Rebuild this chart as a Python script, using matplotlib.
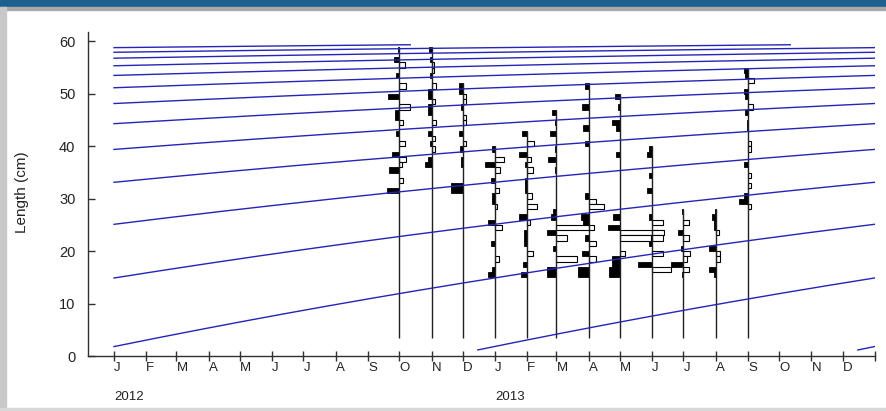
import numpy as np
import matplotlib.pyplot as plt
from matplotlib.patches import Rectangle

# von Bertalanffy growth curve, parameters
LINF = 62.0
K = 0.245
AGE_JAN2012 = 0.12      # age (yr) of the youngest cohort on 1 Jan 2012
AGE_START = 0.075       # curves are drawn from this age ...
AGE_MAX = 12.9          # ... up to this age
COHORTS = np.arange(-2, 13)

MONTHS = ['J', 'F', 'M', 'A', 'M', 'J', 'J', 'A', 'S', 'O', 'N', 'D'] * 2
YEARS = ['2012', '2013']

SAMPLE_DATES = ['2012-10-01', '2012-11-01', '2012-12-01', '2013-01-01',
                '2013-02-01', '2013-03-01', '2013-04-01', '2013-05-01',
                '2013-06-01', '2013-07-01', '2013-08-01', '2013-09-01']

# restructured length frequencies: (class mid, score); + peak (black), - trough (white)
oct12 = [(58.5, 0.04), (56.5, 0.15), (55.5, -0.15), (53.5, 0.1), (51.5, -0.2),
         (49.5, 0.32), (47.5, -0.3), (46.5, 0.12), (45.5, 0.12), (44.5, -0.1),
         (42.5, 0.1), (40.5, -0.15), (38.5, 0.2), (37.5, -0.2), (36.5, -0.08),
         (35.5, 0.3), (33.5, -0.12), (31.5, 0.35)]
nov12 = [(58.5, 0.07), (56.5, 0.05), (55.5, -0.08), (54.5, -0.08), (53.5, 0.05),
         (51.5, -0.12), (50.5, 0.1), (49.5, 0.1), (48.5, -0.1), (47.5, 0.1),
         (46.5, 0.1), (44.5, -0.12), (42.5, 0.1), (41.5, -0.1), (40.5, 0.05),
         (39.5, -0.1), (37.5, 0.1), (36.5, 0.2)]
dec12 = [(51.5, 0.1), (50.5, 0.1), (49.5, -0.1), (48.5, -0.1), (47.5, 0.05),
         (45.5, -0.1), (44.5, -0.1), (42.5, 0.1), (40.5, -0.1), (39.5, 0.08),
         (37.5, 0.06), (36.5, 0.06), (32.5, 0.35), (31.5, 0.35)]
jan13 = [(39.5, 0.1), (37.5, -0.25), (36.5, 0.3), (35.5, -0.15), (33.5, 0.12),
         (31.5, -0.1), (30.5, 0.08), (29.5, 0.08), (28.5, -0.05), (25.5, 0.2),
         (24.5, -0.2), (21.5, 0.12), (18.5, -0.12), (16.5, 0.1), (15.5, 0.2)]
feb13 = [(42.5, 0.15), (40.5, -0.18), (38.5, 0.25), (37.5, -0.1), (36.5, 0.08),
         (35.5, -0.15), (33.5, 0.08), (32.5, 0.08), (31.5, 0.08), (30.5, -0.12),
         (28.5, -0.28), (26.5, 0.23), (25.5, -0.08), (23.5, 0.1), (22.5, 0.1),
         (21.5, 0.1), (19.5, -0.15), (17.5, 0.12), (15.5, 0.18)]
mar13 = [(46.5, 0.12), (44.5, 0.05), (42.5, 0.18), (39.5, 0.05), (37.5, 0.25),
         (35.5, 0.05), (27.5, 0.1), (26.5, 0.15), (24.5, -0.95), (23.5, 0.27),
         (22.5, -0.3), (20.5, 0.1), (18.5, -0.6), (16.5, 0.27), (15.5, 0.27)]
apr13 = [(51.5, 0.12), (47.5, 0.2), (43.5, 0.17), (40.5, 0.12), (30.5, 0.12),
         (29.5, -0.2), (28.5, -0.43), (26.5, 0.22), (25.5, 0.15), (24.5, -0.15),
         (22.5, 0.1), (21.5, -0.2), (19.5, 0.2), (18.5, -0.2), (16.5, 0.3),
         (15.5, 0.3)]
may13 = [(49.5, 0.15), (47.5, 0.05), (44.5, 0.22), (43.5, 0.1), (38.5, 0.1),
         (26.5, 0.2), (24.5, 0.35), (23.5, -1.2), (22.5, -0.9), (19.5, -0.15),
         (18.5, 0.22), (17.5, 0.22), (16.5, 0.3), (15.5, 0.3)]
jun13 = [(39.5, 0.1), (38.5, 0.15), (34.5, 0.1), (31.5, 0.15), (26.5, 0.1),
         (25.5, -0.3), (23.5, -0.35), (22.5, -0.3), (21.5, 0.1), (19.5, -0.3),
         (17.5, 0.4), (16.5, -0.55)]
jul13 = [(27.5, 0.03), (25.5, -0.15), (23.5, 0.15), (22.5, -0.15), (20.5, 0.07),
         (19.5, -0.18), (18.5, -0.1), (17.5, 0.37), (16.5, -0.15), (15.5, 0.05)]
aug13 = [(27.5, 0.03), (26.5, 0.12), (25.5, 0.05), (24.5, 0.05), (23.5, -0.1),
         (20.5, 0.2), (19.5, -0.12), (18.5, -0.12), (16.5, 0.2), (15.5, 0.05)]
sep13 = [(54.5, 0.1), (53.5, 0.08), (52.5, -0.17), (50.5, 0.12), (49.5, 0.08),
         (47.5, -0.15), (46.5, 0.08), (44.5, 0.04), (43.5, 0.04), (40.5, -0.1),
         (39.5, -0.1), (36.5, 0.12), (34.5, -0.08), (32.5, -0.08), (30.5, 0.1),
         (29.5, 0.27), (28.5, -0.08)]
SAMPLES = [oct12, nov12, dec12, jan13, feb13, mar13, apr13, may13, jun13,
           jul13, aug13, sep13]

BASE_FLOOR = 3.5        # bottom of the sample baselines (cm)
SCORE_SCALE = 33.6      # days of x-axis per unit score

ORIGIN = np.datetime64('2012-01-01')


def days(d):
    return (np.datetime64(d) - ORIGIN).astype(float)


fig = plt.figure(figsize=(8.87, 4.11), dpi=100, facecolor='white')

# window frame
fig.patches.append(Rectangle((0, 1 - 7 / 411), 1, 7 / 411, transform=fig.transFigure,
                             color='#1d5f8f', zorder=0))
fig.patches.append(Rectangle((0, 1 - 10 / 411), 1, 3 / 411, transform=fig.transFigure,
                             color='#a8a8a8', zorder=0))
fig.patches.append(Rectangle((0, 0), 6 / 887, 1 - 7 / 411, transform=fig.transFigure,
                             color='#c8c8c8', zorder=0))
fig.patches.append(Rectangle((0, 0), 1, 3 / 411, transform=fig.transFigure,
                             color='#d8d8d8', zorder=0))

ax = fig.add_axes([88 / 887, 55 / 411, 787 / 887, 324 / 411])
ax.set_facecolor('none')

# growth curves
t = np.linspace(0, days('2014-01-01'), 800)
for c in COHORTS:
    age = AGE_JAN2012 + c + t / 365.25
    ok = (age >= AGE_START) & (age <= AGE_MAX)
    if ok.any():
        L = LINF * (1 - np.exp(-K * age[ok]))
        ax.plot(t[ok], L, color='#2424b8', lw=1.0, zorder=3)

# restructured histograms
for d, sample in zip(SAMPLE_DATES, SAMPLES):
    x0 = days(d)
    mids = np.array([m for m, s in sample])
    sc = np.array([s for m, s in sample])
    pos = sc > 0
    ax.barh(mids[pos], -sc[pos] * SCORE_SCALE, left=x0, height=1.0,
            color='black', edgecolor='black', lw=0.6, zorder=2)
    ax.barh(mids[~pos], -sc[~pos] * SCORE_SCALE, left=x0, height=1.0,
            color='white', edgecolor='black', lw=0.8, zorder=2)
    ax.vlines(x0, BASE_FLOOR, mids.max() + 0.5, color='#202020', lw=1.0, zorder=2)

ax.set_xlim(-25, days('2014-01-01'))
ax.set_ylim(0, 61.8)
for s in ['top', 'right']:
    ax.spines[s].set_visible(False)
for s in ['left', 'bottom']:
    ax.spines[s].set_color('#303030')
    ax.spines[s].set_linewidth(1.0)

ax.set_yticks(range(0, 61, 10))
ax.tick_params(axis='y', direction='in', length=5, width=1, colors='#303030',
               labelsize=10.5, labelcolor='#222222', pad=9)

month_ticks = [days(m) for m in np.arange('2012-01', '2014-02', dtype='datetime64[M]')]
ax.set_xticks(month_ticks)
ax.set_xticklabels(MONTHS + [''], ha='left')
ax.tick_params(axis='x', direction='inout', length=7, width=1, colors='#303030',
               labelsize=9.5, labelcolor='#222222', pad=1)

for y, lab in zip(['2012-01-01', '2013-01-01'], YEARS):
    ax.text(days(y), -0.125, lab, transform=ax.get_xaxis_transform(),
            ha='left', va='center', fontsize=9.5, color='#222222')

fig.text(22 / 887, 0.533, 'Length (cm)', rotation=90, ha='center', va='center',
         fontsize=11, color='#222222')

plt.rcParams['font.family'] = ['Liberation Sans', 'DejaVu Sans']
for txt in fig.findobj(match=lambda o: hasattr(o, 'set_fontfamily')):
    txt.set_fontfamily(['Liberation Sans', 'DejaVu Sans'])

fig.savefig('out.png', dpi=100)
